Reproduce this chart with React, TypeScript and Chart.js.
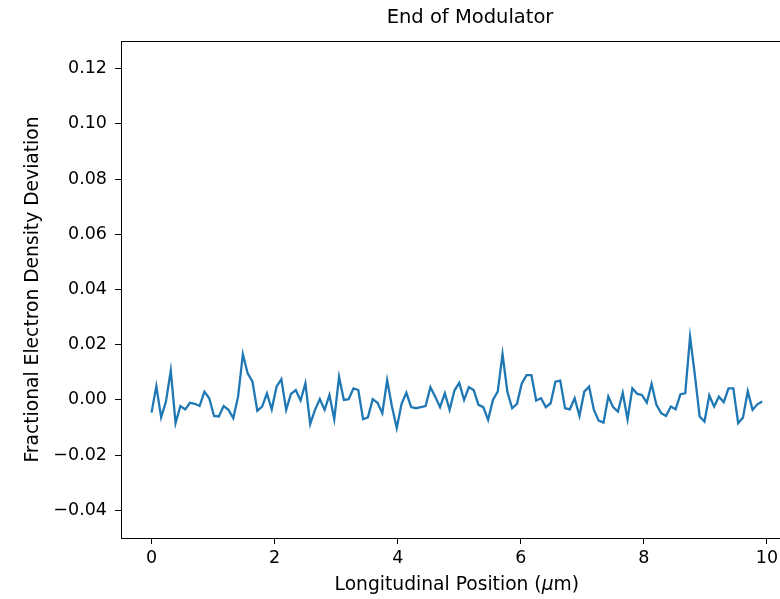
import React, { useEffect, useRef } from "react";
import { Chart, registerables } from "chart.js";

Chart.register(...registerables);

const TITLE = "End of Modulator";
const X_LABEL_MAIN = "Longitudinal Position (";
const X_LABEL_MU = "μ";
const X_LABEL_END = "m)";
const Y_LABEL = "Fractional Electron Density Deviation";

// sampling grid step (μm)
const X_STEP = 10 / 128;

// Fractional electron density deviation
const DENSITY = [
  -0.0046, 0.005, -0.0063, -0.0006, 0.0106, -0.0084, -0.0022, -0.0034, -0.001, -0.0014,
  -0.0022, 0.003, 0.0006, -0.0058, -0.006, -0.0022, -0.0036, -0.0066, 0.0012, 0.0166,
  0.0096, 0.0066,
  -0.0039, -0.0024, 0.0024, -0.0034, 0.0048, 0.0075, -0.0036, 0.0022, 0.0036, -0.0002,
  0.006, -0.0087, -0.0036, 0.0003, -0.0036, 0.0018, -0.007, 0.0084, 0.0, 0.0003,
  0.0042, 0.0036,
  -0.007, -0.0063, 0.0003, -0.001, -0.0048, 0.0072, -0.0024, -0.0102, -0.0014, 0.0026,
  -0.0026, -0.003, -0.0026, -0.0022, 0.0046, 0.0012, -0.0026, 0.0024, -0.0036, 0.0034,
  0.0062, 0.0,
  0.0046, 0.0036, -0.0018, -0.0026, -0.0072, 0.0, 0.003, 0.0166, 0.003, -0.003,
  -0.0014, 0.006, 0.009, 0.009, -0.0002, 0.0006, -0.0026, -0.0012, 0.0066, 0.007,
  -0.003, -0.0034,
  0.0006, -0.0058, 0.003, 0.0048, -0.0036, -0.0075, -0.0082, 0.0012, -0.0026, -0.0042,
  0.0026, -0.007, 0.0042, 0.0022, 0.0018, -0.001, 0.0058, -0.0018, -0.0048, -0.0058,
  -0.0024, -0.0034,
  0.0021, 0.0024, 0.0229, 0.009, -0.006, -0.0078, 0.0016, -0.0024, 0.0012, -0.0008,
  0.0042, 0.0042, -0.0084, -0.0064, 0.0032, -0.0036, -0.0016, -0.0006,
];

const X_TICKS = [0, 2, 4, 6, 8, 10];
const X_TICK_LABELS = ["0", "2", "4", "6", "8", "10"];
const Y_TICKS = [-0.04, -0.02, 0.0, 0.02, 0.04, 0.06, 0.08, 0.1, 0.12];
const Y_TICK_LABELS = ["−0.04", "−0.02", "0.00", "0.02", "0.04", "0.06", "0.08", "0.10", "0.12"];

const X_MIN = -0.496;
const X_MAX = 10.416;
const Y_MIN = -0.05;
const Y_MAX = 0.13;

const FONT = "'DejaVu Sans', 'Noto Sans', sans-serif";
const CANVAS_W = 820;
const CANVAS_H = 599;
const LABEL_SIZE = 18.7;
const TICK_SIZE = 17.5;

const framePlugin = {
  id: "frameAndLabels",
  afterDraw(chart: any) {
    const { ctx, chartArea } = chart;
    const { left, right, top, bottom } = chartArea;
    ctx.save();
    ctx.strokeStyle = "#000";
    ctx.lineWidth = 1;
    ctx.strokeRect(Math.round(left) + 0.5, Math.round(top) + 0.5, Math.round(right - left), Math.round(bottom - top));

    ctx.fillStyle = "#000";
    // title
    ctx.font = `19.5px ${FONT}`;
    ctx.textAlign = "center";
    ctx.textBaseline = "middle";
    ctx.fillText(TITLE, 470, 18);

    // x label with italic mu
    ctx.font = `${LABEL_SIZE}px ${FONT}`;
    const w1 = ctx.measureText(X_LABEL_MAIN).width;
    const w3 = ctx.measureText(X_LABEL_END).width;
    ctx.font = `italic ${LABEL_SIZE}px ${FONT}`;
    const w2 = ctx.measureText(X_LABEL_MU).width;
    const total = w1 + w2 + w3;
    const x0 = (left + right) / 2 - total / 2;
    const ly = 585;
    ctx.textAlign = "left";
    ctx.font = `${LABEL_SIZE}px ${FONT}`;
    ctx.fillText(X_LABEL_MAIN, x0, ly);
    ctx.font = `italic ${LABEL_SIZE}px ${FONT}`;
    ctx.fillText(X_LABEL_MU, x0 + w1, ly);
    ctx.font = `${LABEL_SIZE}px ${FONT}`;
    ctx.fillText(X_LABEL_END, x0 + w1 + w2, ly);

    // y label
    ctx.translate(33, (top + bottom) / 2);
    ctx.rotate(-Math.PI / 2);
    ctx.textAlign = "center";
    ctx.textBaseline = "middle";
    ctx.font = `${LABEL_SIZE}px ${FONT}`;
    ctx.fillText(Y_LABEL, 0, 0);
    ctx.restore();
  },
};

export default function App() {
  const canvasRef = useRef<HTMLCanvasElement | null>(null);

  useEffect(() => {
    const canvas = canvasRef.current;
    if (!canvas) return;
    const points = DENSITY.map((v, i) => ({ x: i * X_STEP, y: v }));
    const chart = new Chart(canvas, {
      type: "line",
      data: {
        datasets: [
          {
            data: points,
            borderColor: "#1f77b4",
            borderWidth: 2.3,
            pointRadius: 0,
            tension: 0,
            fill: false,
          },
        ],
      },
      options: {
        animation: false,
        responsive: false,
        maintainAspectRatio: false,
        devicePixelRatio: 1,
        layout: { padding: { left: 0, top: 41, right: CANVAS_W - 792.6, bottom: 0 } },
        plugins: {
          legend: { display: false },
          tooltip: { enabled: false },
          title: { display: false },
        },
        scales: {
          x: {
            type: "linear",
            min: X_MIN,
            max: X_MAX,
            border: { display: false },
            grid: {
              display: true,
              drawOnChartArea: false,
              drawTicks: true,
              tickLength: 6,
              tickColor: "#000",
              color: "#000",
            },
            ticks: {
              autoSkip: false,
              maxRotation: 0,
              minRotation: 0,
              padding: 4,
              color: "#000",
              font: { family: FONT, size: TICK_SIZE },
              callback: (_v: any, i: number) => X_TICK_LABELS[i],
            },
            afterBuildTicks: (s: any) => {
              s.ticks = X_TICKS.map((v) => ({ value: v }));
            },
            afterFit: (s: any) => {
              s.height = 61;
            },
          },
          y: {
            type: "linear",
            min: Y_MIN,
            max: Y_MAX,
            border: { display: false },
            grid: {
              display: true,
              drawOnChartArea: false,
              drawTicks: true,
              tickLength: 6,
              tickColor: "#000",
              color: "#000",
            },
            ticks: {
              autoSkip: false,
              padding: 8,
              color: "#000",
              font: { family: FONT, size: TICK_SIZE },
              callback: (_v: any, i: number) => Y_TICK_LABELS[i],
            },
            afterBuildTicks: (s: any) => {
              s.ticks = Y_TICKS.map((v) => ({ value: v }));
            },
            afterFit: (s: any) => {
              s.width = 121;
            },
          },
        },
      },
      plugins: [framePlugin],
    });
    return () => chart.destroy();
  }, []);

  return (
    <div
      style={{
        position: "fixed",
        left: 0,
        top: 0,
        width: 780,
        height: 599,
        overflow: "hidden",
        background: "#fff",
      }}
    >
      <canvas ref={canvasRef} width={CANVAS_W} height={CANVAS_H} style={{ display: "block" }} />
    </div>
  );
}
